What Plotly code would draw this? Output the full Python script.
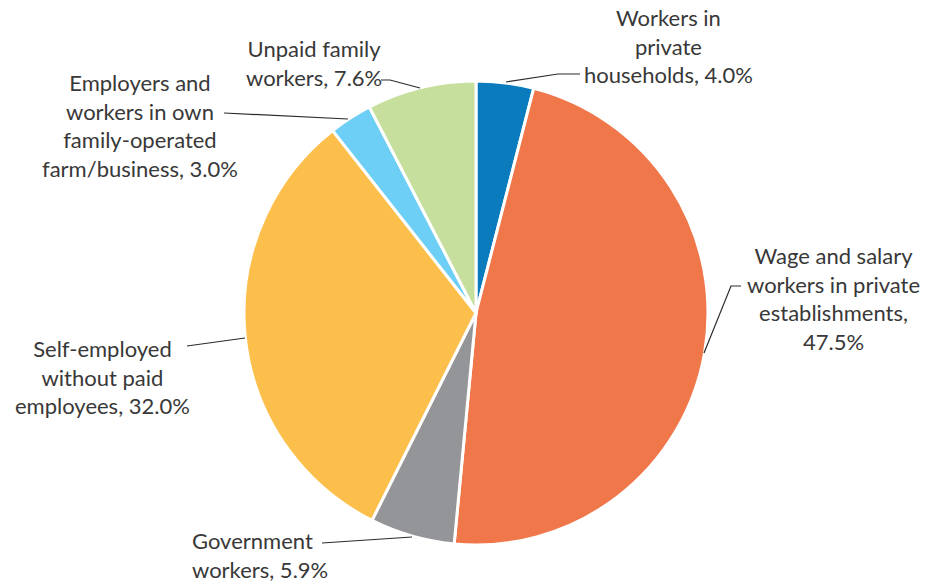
import plotly.graph_objects as go

W, H = 928, 584

categories = [
    "Workers in private households",
    "Wage and salary workers in private establishments",
    "Government workers",
    "Self-employed without paid employees",
    "Employers and workers in own family-operated farm/business",
    "Unpaid family workers",
]
values = [4.0, 47.5, 5.9, 32.0, 3.0, 7.6]
colors = ["#0a7bbd", "#ef774a", "#939598", "#fdbf4c", "#6dcff6", "#c6df9c"]
label_texts = [
    "Workers in<br>private<br>households, 4.0%",
    "Wage and salary<br>workers in private<br>establishments,<br>47.5%",
    "Government<br>workers, 5.9%",
    "Self-employed<br>without paid<br>employees, 32.0%",
    "Employers and<br>workers in own<br>family-operated<br>farm/business, 3.0%",
    "Unpaid family<br>workers, 7.6%",
]

# label placement (pixels): x, center y, alignment
label_pos = [
    (668, 46, "center"),
    (833, 298, "center"),
    (190, 555, "left"),
    (102, 377, "center"),
    (140, 126, "center"),
    (314, 63, "center"),
]
# leader line paths (pixels)
leaders = [
    [(506, 82), (558, 74), (580, 74)],
    [(704, 353), (731, 286), (741, 286)],
    [(322, 543), (412, 537)],
    [(187, 346), (245, 338)],
    [(224, 113), (348, 119)],
    [(381, 80), (390, 80), (420, 88)],
]


def px(x):
    return x / W


def py(y):
    return 1 - y / H


fig = go.Figure(go.Pie(
    labels=categories,
    values=values,
    marker=dict(colors=colors, line=dict(color="white", width=3)),
    sort=False,
    direction="clockwise",
    rotation=0,
    textinfo="none",
    hoverinfo="label+percent",
    domain=dict(x=[px(244), px(708)], y=[py(545), py(81)]),
    showlegend=False,
))

for text, (cx, cy, al) in zip(label_texts, label_pos):
    fig.add_annotation(
        x=px(cx), y=py(cy), xref="paper", yref="paper",
        text=text, showarrow=False, align=al,
        xanchor="left" if al == "left" else "center", yanchor="middle",
        font=dict(family="Lato", size=22, color="#383838"),
    )

for pts in leaders:
    path = "M " + " L ".join(f"{px(x)},{py(y)}" for x, y in pts)
    fig.add_shape(type="path", path=path, xref="paper", yref="paper",
                  line=dict(color="#2b2b2b", width=1.2))

fig.update_layout(
    width=W, height=H,
    margin=dict(l=0, r=0, t=0, b=0),
    paper_bgcolor="white", plot_bgcolor="white",
)

fig.write_html(
    "out.html",
    config={"displayModeBar": False},
    post_script="document.body.style.margin='0px';document.body.style.overflow='hidden';",
)
